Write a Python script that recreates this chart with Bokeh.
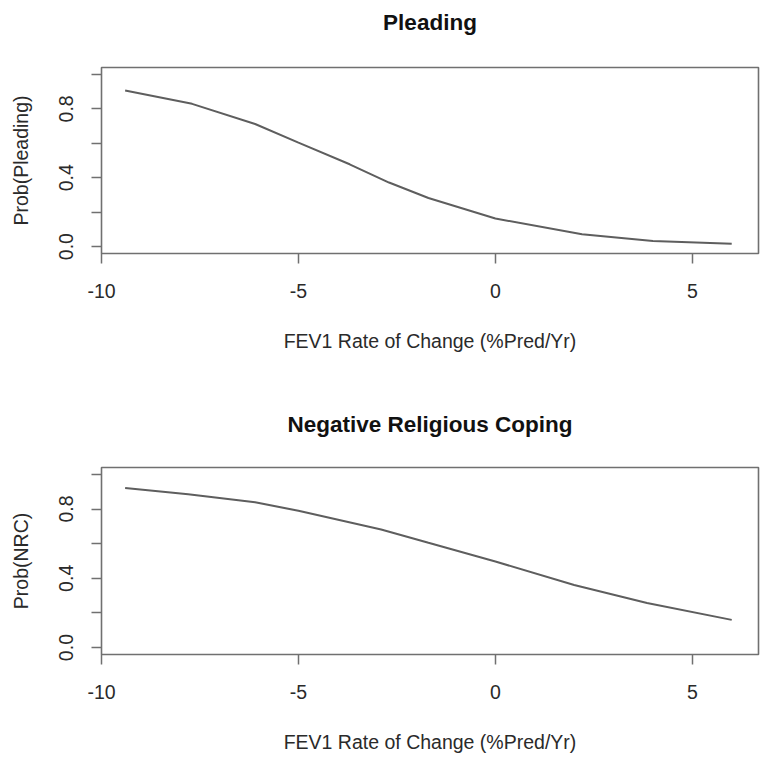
from bokeh.plotting import figure
from bokeh.layouts import column
from bokeh.models import FixedTicker, PrintfTickFormatter, Range1d, Title
from bokeh.embed import file_html
from bokeh.resources import INLINE

# ---- data ----
x_ticks = [-10, -5, 0, 5]
y_major_ticks = [0.0, 0.4, 0.8]
y_minor_ticks = [0.2, 0.6, 1.0]

pleading_x = [-9.4, -7.7, -6.1, -5.0, -3.7, -2.7, -1.7, 0.0, 2.2, 4.0, 6.0]
pleading_y = [0.906, 0.829, 0.712, 0.604, 0.478, 0.372, 0.282, 0.163, 0.072, 0.033, 0.016]

nrc_x = [-9.4, -7.8, -6.1, -5.0, -2.9, -1.7, 0.0, 2.0, 3.85, 6.0]
nrc_y = [0.922, 0.886, 0.839, 0.790, 0.682, 0.605, 0.497, 0.361, 0.257, 0.160]

titles = ["Pleading", "Negative Religious Coping"]
y_labels = ["Prob(Pleading)", "Prob(NRC)"]
x_label = "FEV1 Rate of Change (%Pred/Yr)"

FONT = "Liberation Sans"
TXT = "#2a2a2a"
BOX = "#707070"


def make_panel(xs, ys, title, ylab, height, top, bottom, gap):
    p = figure(width=763, height=height,
               min_border_left=101, min_border_right=5,
               min_border_top=top, min_border_bottom=bottom,
               x_range=Range1d(-10.0, 6.68), y_range=Range1d(-0.04, 1.04),
               output_backend="svg", toolbar_location=None, tools="")
    p.grid.visible = False
    p.background_fill_color = "white"
    p.border_fill_color = "white"
    p.outline_line_color = BOX
    p.outline_line_width = 1.6

    # empty spacer (closest to the frame) then the real title above it
    p.add_layout(Title(text=" ", text_font_size="1px", standoff=gap), "above")
    p.add_layout(Title(text=title, align="center", text_font=FONT,
                       text_font_style="bold", text_font_size="22.5px",
                       text_color="#111111", standoff=0), "above")

    p.line(xs, ys, line_color="#5e5e5e", line_width=2)

    xa = p.xaxis[0]
    xa.ticker = FixedTicker(ticks=x_ticks)
    xa.formatter = PrintfTickFormatter(format="%d")
    xa.axis_line_color = None
    xa.major_tick_out = 10
    xa.major_tick_in = 0
    xa.major_tick_line_color = BOX
    xa.major_tick_line_width = 1.5
    xa.minor_tick_line_color = None
    xa.major_label_standoff = 20
    xa.major_label_text_font = FONT
    xa.major_label_text_font_size = "19.5px"
    xa.major_label_text_color = TXT
    xa.axis_label = x_label
    xa.axis_label_standoff = 29
    xa.axis_label_text_font = FONT
    xa.axis_label_text_font_size = "19.5px"
    xa.axis_label_text_font_style = "normal"
    xa.axis_label_text_color = TXT

    ya = p.yaxis[0]
    ya.ticker = FixedTicker(ticks=y_major_ticks, minor_ticks=y_minor_ticks)
    ya.formatter = PrintfTickFormatter(format="%.1f")
    ya.axis_line_color = None
    ya.major_tick_out = 10
    ya.major_tick_in = 0
    ya.minor_tick_out = 10
    ya.minor_tick_in = 0
    ya.major_tick_line_color = BOX
    ya.minor_tick_line_color = BOX
    ya.major_tick_line_width = 1.5
    ya.minor_tick_line_width = 1.5
    ya.major_label_orientation = "vertical"
    ya.major_label_standoff = 18
    ya.major_label_text_font = FONT
    ya.major_label_text_font_size = "19.5px"
    ya.major_label_text_color = TXT
    ya.axis_label = ylab
    ya.axis_label_standoff = 25
    ya.axis_label_text_font = FONT
    ya.axis_label_text_font_size = "19.5px"
    ya.axis_label_text_font_style = "normal"
    ya.axis_label_text_color = TXT
    return p


p1 = make_panel(pleading_x, pleading_y, titles[0], y_labels[0], 398, 67, 145, 30)
p2 = make_panel(nrc_x, nrc_y, titles[1], y_labels[1], 358, 69, 102, 28)

layout = column(p1, p2, spacing=0)
open("out.html", "w").write(file_html(layout, INLINE))
